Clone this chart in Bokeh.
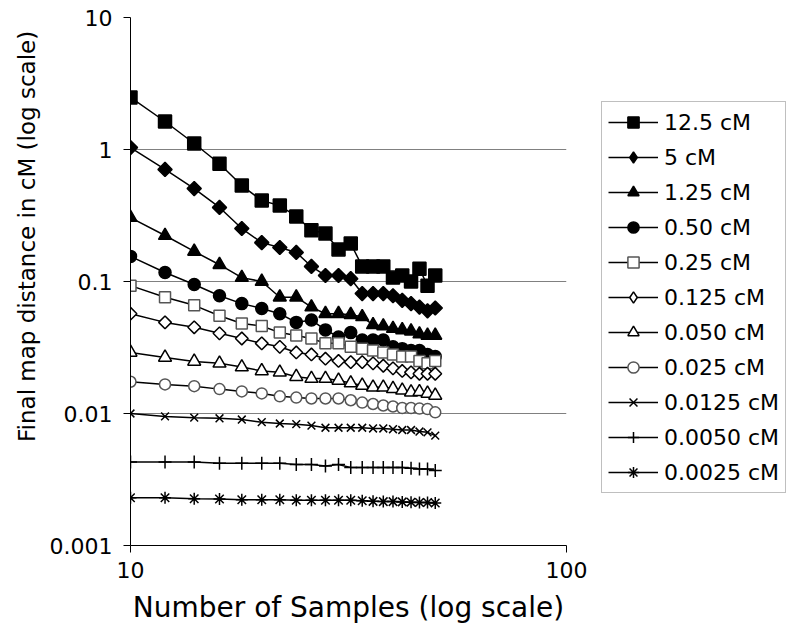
import math
from bokeh.plotting import figure
from bokeh.models import (Legend, LegendItem, FixedTicker, CustomJSTickFormatter,
                          ColumnDataSource, Title)
from bokeh.embed import file_html
from bokeh.resources import INLINE

# ---- data ----
samples = [10, 12, 14, 16, 18, 20, 22, 24, 26, 28, 30, 32, 34, 36, 38, 40, 42, 44, 46, 48, 50]

cm_12_5 = [2.48, 1.63, 1.11, 0.78, 0.533, 0.41, 0.376, 0.311, 0.245, 0.231, 0.175, 0.194, 0.130, 0.130, 0.130, 0.107, 0.111, 0.100, 0.125, 0.093, 0.111]
cm_5 = [1.035, 0.706, 0.506, 0.364, 0.252, 0.197, 0.181, 0.166, 0.130, 0.111, 0.111, 0.105, 0.081, 0.081, 0.081, 0.078, 0.072, 0.068, 0.064, 0.060, 0.063]
cm_1_25 = [0.305, 0.223, 0.169, 0.134, 0.107, 0.100, 0.076, 0.076, 0.064, 0.057, 0.057, 0.056, 0.054, 0.047, 0.046, 0.044, 0.043, 0.042, 0.040, 0.039, 0.039]
cm_0_50 = [0.155, 0.117, 0.095, 0.078, 0.068, 0.0625, 0.057, 0.049, 0.051, 0.043, 0.038, 0.041, 0.036, 0.036, 0.036, 0.032, 0.031, 0.030, 0.030, 0.028, 0.027]
cm_0_25 = [0.093, 0.076, 0.066, 0.055, 0.048, 0.046, 0.041, 0.039, 0.037, 0.034, 0.034, 0.032, 0.031, 0.030, 0.029, 0.028, 0.027, 0.027, 0.025, 0.024, 0.025]
cm_0_125 = [0.057, 0.049, 0.045, 0.0405, 0.037, 0.034, 0.032, 0.029, 0.028, 0.026, 0.025, 0.0245, 0.0245, 0.024, 0.023, 0.022, 0.021, 0.0205, 0.020, 0.020, 0.020]
cm_0_050 = [0.029, 0.0266, 0.0248, 0.024, 0.0225, 0.021, 0.0205, 0.019, 0.0184, 0.0184, 0.0178, 0.017, 0.0163, 0.0158, 0.0158, 0.0154, 0.015, 0.0145, 0.0146, 0.0142, 0.0137]
cm_0_025 = [0.0174, 0.0166, 0.0161, 0.0153, 0.0147, 0.0142, 0.0135, 0.0132, 0.013, 0.013, 0.013, 0.0126, 0.0121, 0.0118, 0.0115, 0.0113, 0.011, 0.011, 0.0109, 0.0108, 0.0102]
cm_0_0125 = [0.0100, 0.0095, 0.0093, 0.0092, 0.0090, 0.0086, 0.0084, 0.0083, 0.0081, 0.0078, 0.0078, 0.0078, 0.0078, 0.0077, 0.0077, 0.0076, 0.0075, 0.0075, 0.0073, 0.0072, 0.0068]
cm_0_0050 = [0.0043, 0.0043, 0.0043, 0.0042, 0.0042, 0.0042, 0.0042, 0.0041, 0.0041, 0.0040, 0.0041, 0.0039, 0.0039, 0.0039, 0.0039, 0.0039, 0.0039, 0.00385, 0.0038, 0.0038, 0.0037]
cm_0_0025 = [0.0023, 0.0023, 0.00226, 0.00225, 0.00222, 0.00222, 0.00222, 0.0022, 0.0022, 0.0022, 0.0022, 0.0022, 0.00218, 0.00216, 0.00215, 0.00215, 0.00214, 0.00213, 0.00212, 0.00212, 0.0021]

labels = ["12.5 cM", "5 cM", "1.25 cM", "0.50 cM", "0.25 cM", "0.125 cM",
          "0.050 cM", "0.025 cM", "0.0125 cM", "0.0050 cM", "0.0025 cM"]
series = [cm_12_5, cm_5, cm_1_25, cm_0_50, cm_0_25, cm_0_125,
          cm_0_050, cm_0_025, cm_0_0125, cm_0_0050, cm_0_0025]

y_ticks = [0.001, 0.01, 0.1, 1, 10]
x_ticks = [10, 100]

# marker styles: (marker, size, fill, line colour, angle, legend marker)
styles = [
    ("square", 13, "black", "black", 0, "square"),
    ("square", 10, "black", "black", math.pi / 4, "diamond"),
    ("triangle", 13, "black", "black", 0, "triangle"),
    ("circle", 12, "black", "black", 0, "circle"),
    ("square", 11, "white", "#555555", 0, "square"),
    ("square", 9, "white", "black", math.pi / 4, "diamond"),
    ("triangle", 13, "white", "black", 0, "triangle"),
    ("circle", 11, "white", "#555555", 0, "circle"),
    ("x", 11, None, "black", 0, "x"),
    ("cross", 13, None, "black", 0, "cross"),
    ("asterisk", 12, None, "black", 0, "asterisk"),
]

FONT = "DejaVu Sans"
NAN = float("nan")

p = figure(x_axis_type="log", y_axis_type="log",
           x_range=(10, 100), y_range=(0.001, 10),
           frame_width=436, frame_height=528,
           min_border_left=130, min_border_right=226,
           min_border_top=17, min_border_bottom=90,
           output_backend="svg", toolbar_location=None)

p.outline_line_color = None
p.background_fill_color = "white"
p.xgrid.grid_line_color = None
p.ygrid.grid_line_color = "#808080"
p.ygrid.grid_line_width = 1
p.ygrid.ticker = FixedTicker(ticks=y_ticks)

p.xaxis.ticker = FixedTicker(ticks=x_ticks)
p.yaxis.ticker = FixedTicker(ticks=y_ticks)
p.xaxis.formatter = CustomJSTickFormatter(code="return tick.toString();")
p.yaxis.formatter = CustomJSTickFormatter(code="return tick.toString();")

for ax in (p.xaxis[0], p.yaxis[0]):
    ax.axis_line_color = "black"
    ax.axis_line_width = 1
    ax.major_tick_line_color = "black"
    ax.major_tick_in = 0
    ax.major_tick_out = 7
    ax.minor_tick_line_color = None
    ax.major_label_text_font = FONT
    ax.major_label_text_font_size = "22px"
    ax.major_label_text_color = "black"
    ax.axis_label_text_font = FONT
    ax.axis_label_text_font_style = "normal"
    ax.axis_label_text_color = "black"

p.xaxis.axis_label = "Number of Samples (log scale)"
p.xaxis.axis_label_text_font_size = "28px"
p.xaxis.major_label_standoff = 9
p.xaxis.axis_label_standoff = 10
p.yaxis.major_label_standoff = 11

ytitle = Title(text="Final map distance  in cM (log scale)", align="right", offset=6,
               vertical_align="top", standoff=10, text_font=FONT, text_font_size="23px",
               text_font_style="normal", text_color="black")
p.add_layout(ytitle, "left")

items = []
for lab, vals, (mk, sz, fill, lc, ang, lmk) in zip(labels, series, styles):
    src = ColumnDataSource(dict(x=samples, y=vals))
    ln = p.line("x", "y", source=src, line_color="black", line_width=1.5)
    p.scatter("x", "y", source=src, marker=mk, size=sz, angle=ang,
              fill_color=fill, line_color=lc, line_width=1.5)
    # legend-only proxy glyph (a NaN point, draws nothing in the plot)
    lg = p.scatter(x=[NAN], y=[NAN], marker=lmk, size=sz,
                   fill_color=fill, line_color=lc, line_width=1.5)
    items.append(LegendItem(label=lab, renderers=[ln, lg]))

legend = Legend(items=items, location=(35, 52),
                label_text_font=FONT, label_text_font_size="22px",
                label_text_color="black",
                glyph_width=50, glyph_height=28, label_height=24,
                label_standoff=6, spacing=7, padding=6, margin=0,
                border_line_color="#808080", border_line_width=1,
                background_fill_color="white", background_fill_alpha=1)
p.add_layout(legend, "right")

open("out.html", "w").write(file_html(p, INLINE))
